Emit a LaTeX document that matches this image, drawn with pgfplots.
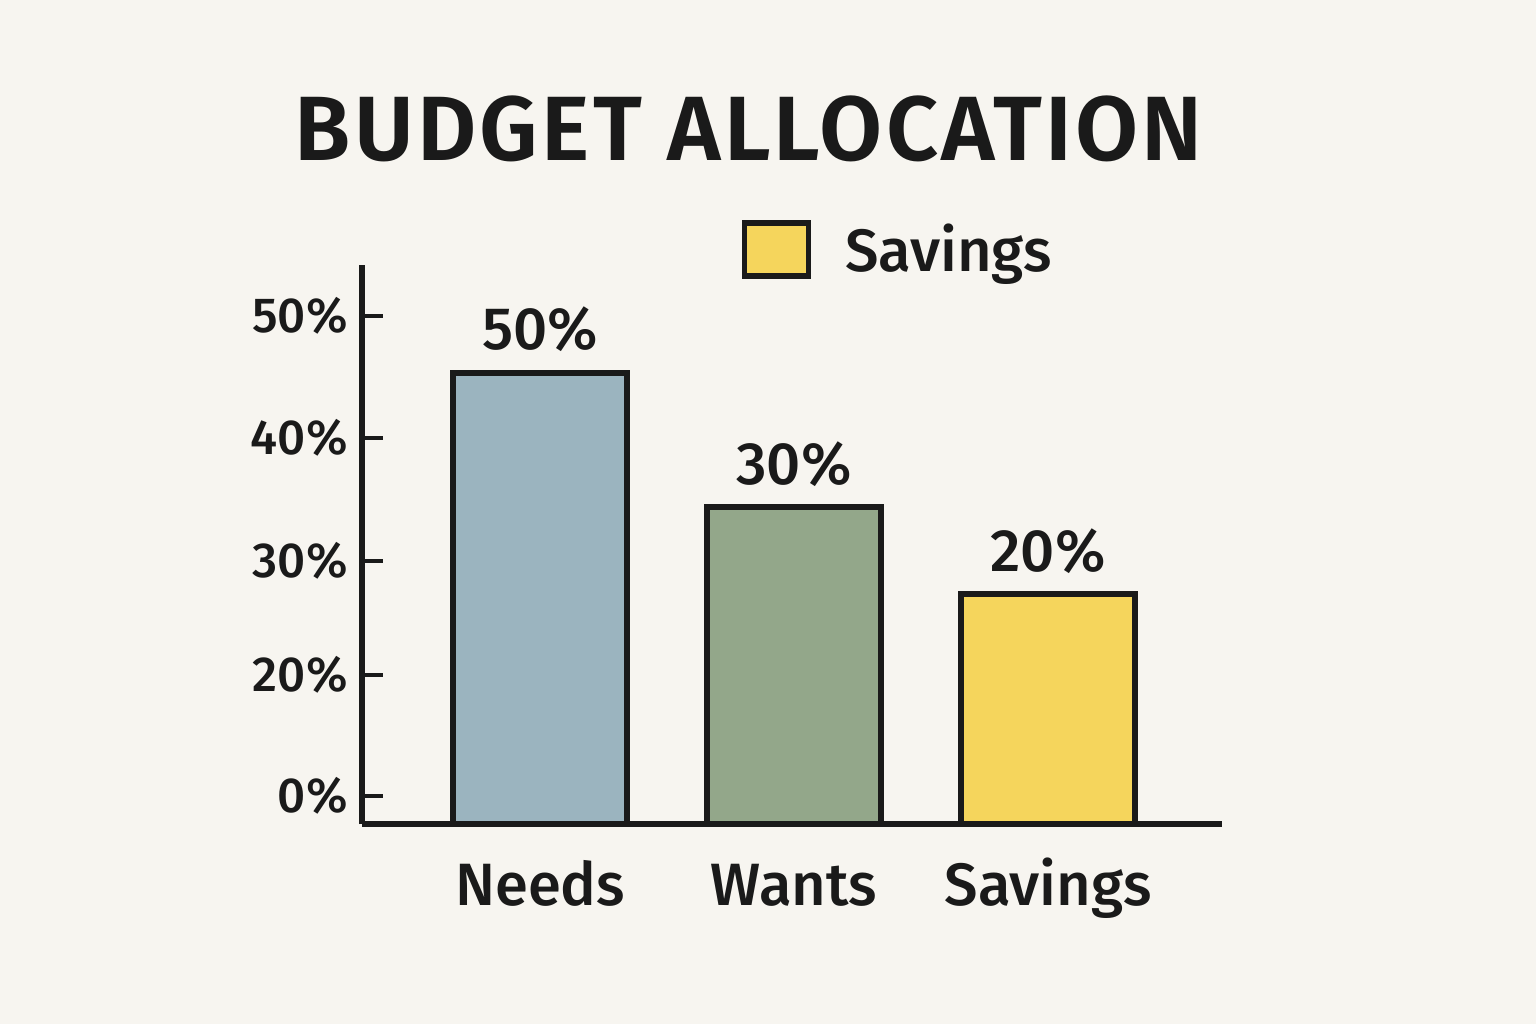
\documentclass[border=0pt]{standalone}
\usepackage{pgfplots}
\pgfplotsset{compat=1.18}
\usepackage{fontspec}
\setmainfont{Fira Sans}[UprightFont=* Medium, BoldFont=* SemiBold]
\definecolor{bgc}{HTML}{F7F5F0}
\definecolor{needc}{HTML}{9BB4BF}
\definecolor{wantc}{HTML}{93A78A}
\definecolor{savc}{HTML}{F5D55C}
\definecolor{ink}{HTML}{1A1A1A}
\begin{document}
\begin{tikzpicture}
\fill[bgc] (0,0) rectangle (15.36,10.24);
\useasboundingbox (0,0) rectangle (15.36,10.24);
\begin{axis}[
  at={(3.62cm,2.00cm)}, anchor=south west,
  scale only axis, width=8.6cm, height=5.59cm,
  xmin=-0.701, xmax=2.685, ymin=0, ymax=5.59,
  axis lines=left, axis line style={-, ink, line width=1.5pt},
  xtick={0,1,2}, xticklabels={Needs,Wants,Savings},
  xtick style={draw=none},
  xticklabel style={anchor=base, yshift=-0.81cm, font=\fontsize{17}{20}\selectfont, text=ink},
  ytick={0.28,1.49,2.63,3.86,5.08},
  yticklabels={0\%,20\%,30\%,40\%,50\%},
  yticklabel style={font=\fontsize{14}{16}\selectfont, text=ink, xshift=-0.02cm},
  ytick style={ink, line width=1.2pt},
  tick align=inside, major tick length=0.21cm,
  title={\addfontfeatures{LetterSpace=3.5}\bfseries BUDGET ALLOCATION},
  title style={at={(0.45,1.205)}, anchor=center, font=\fontsize{26}{30}\selectfont, text=ink},
  legend style={at={(0.4407,1.027)}, anchor=west, draw=none, fill=none,
    font=\fontsize{17}{20}\selectfont, text=ink, inner sep=0pt},
  every node near coord/.append style={anchor=base, yshift=0.23cm,
    font=\fontsize{17}{20}\selectfont, text=ink},
  clip=false,
]
\addplot[ybar, bar width=1.74cm, bar shift=0pt, fill=needc, draw=ink, line width=1.5pt,
  nodes near coords, point meta=explicit symbolic, forget plot]
  coordinates {(0,4.51) [50\%]};
\addplot[ybar, bar width=1.74cm, bar shift=0pt, fill=wantc, draw=ink, line width=1.5pt,
  nodes near coords, point meta=explicit symbolic, forget plot]
  coordinates {(1,3.17) [30\%]};
\addplot[ybar, bar width=1.74cm, bar shift=0pt, fill=savc, draw=ink, line width=1.5pt,
  nodes near coords, point meta=explicit symbolic,
  legend image code/.code={\draw[fill=savc, draw=ink, line width=1.5pt] (0cm,-0.26cm) rectangle (0.64cm,0.27cm);}]
  coordinates {(2,2.30) [20\%]};
\addlegendentry{\hspace{0.27cm}Savings}
\end{axis}
\end{tikzpicture}
\end{document}
